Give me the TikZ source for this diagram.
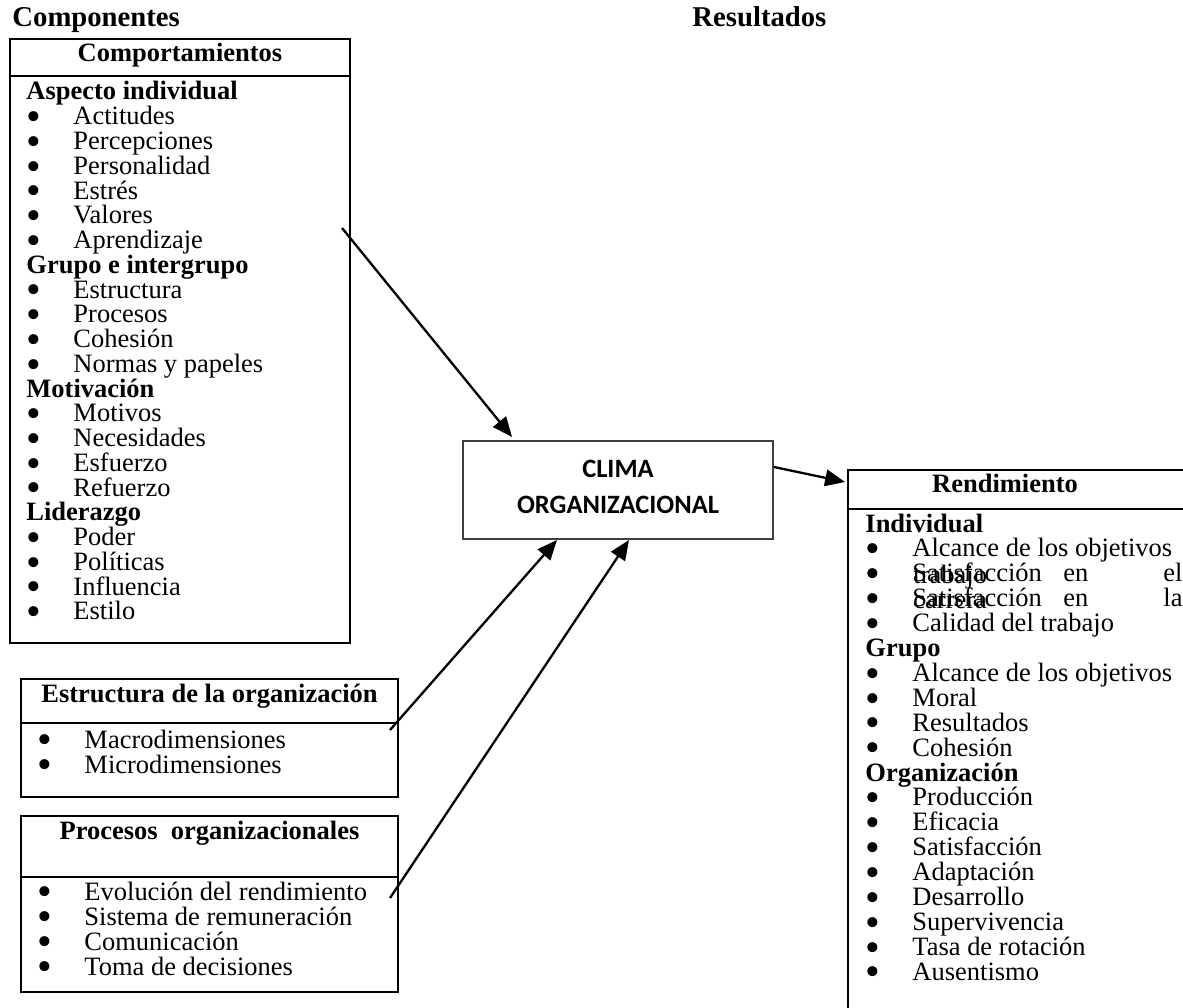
\documentclass[tikz,border=0pt]{standalone}
\usepackage{fontspec}
\setmainfont{Liberation Serif}
\newfontfamily\calib{Carlito}
\usetikzlibrary{arrows.meta,fit,calc}

\newcommand\bigdot{\makebox[21.3pt][l]{\smash{\raisebox{-2.6pt}{\fontsize{19}{19}\selectfont•}}}}

\begin{document}
\begin{tikzpicture}[x=0.453pt,y=-0.453pt,
  frame/.style={draw, line width=0.9pt, inner sep=0pt},
  rule/.style={line width=0.9pt},
  txt/.style={anchor=base west, inner sep=0pt, font=\fontsize{12}{14}\selectfont},
  lnh/.style={txt, font=\fontsize{12}{14}\selectfont\bfseries},
  lni/.style={txt, execute at begin node={\bigdot}},
  ttl/.style={anchor=base, inner sep=0pt, font=\fontsize{12}{14}\selectfont\bfseries},
  captxt/.style={anchor=base west, inner sep=0pt, font=\fontsize{13}{15}\selectfont\bfseries},
  climatxt/.style={anchor=base, inner sep=0pt, font=\calib\fontsize{12}{14}\selectfont\bfseries},
  link/.style={line width=1.05pt, -{Triangle[length=9pt,width=7.5pt]}}]

\useasboundingbox (0,0) rectangle (1183,1008);
\fill[white] (0,0) rectangle (1183,1008);
\clip (0,0) rectangle (1183,1008);

% column captions
\node[captxt] (tcomp) at (12,27) {Componentes};
\node[captxt] (tres) at (692,27) {Resultados};

% behaviour box
\node[frame, fit={(10,39) (350,643)}] (comp) {};
\draw[rule] (comp.west |- 0,76) -- (comp.east |- 0,76);
\node[ttl] (compt) at (180,62) {Comportamientos};
\foreach \kind/\txt [count=\i from 0] in {
  h/Aspecto individual, i/Actitudes, i/Percepciones, i/Personalidad,
  i/Estrés, i/Valores, i/Aprendizaje,
  h/Grupo e intergrupo, i/Estructura, i/Procesos, i/Cohesión, i/Normas y papeles,
  h/Motivación, i/Motivos, i/Necesidades, i/Esfuerzo, i/Refuerzo,
  h/Liderazgo, i/Poder, i/Políticas, i/Influencia, i/Estilo}{
  \pgfmathsetmacro\yy{100+\i*24.76}
  \node[ln\kind] (c\i) at (26,\yy) {\txt};
}

% organisation structure box
\node[frame, fit={(21,679) (398,797)}] (estr) {};
\draw[rule] (estr.west |- 0,723) -- (estr.east |- 0,723);
\node[ttl] (estrt) at (209.5,702) {Estructura de la organización};
\node[lni] (e1) at (37,748) {Macrodimensiones};
\node[lni] (e2) at (37,773) {Microdimensiones};

% organisational processes box
\node[frame, fit={(21,816) (398,992)}] (proc) {};
\draw[rule] (proc.west |- 0,877) -- (proc.east |- 0,877);
\node[ttl] (proct) at (209.5,839) {Procesos\ \ organizacionales};
\foreach \txt [count=\i from 0] in {Evolución del rendimiento, Sistema de remuneración,
  Comunicación, Toma de decisiones}{
  \pgfmathsetmacro\yy{900+\i*25}
  \node[lni] (p\i) at (37,\yy) {\txt};
}

% central box
\node[draw=black!75, line width=0.7pt, inner sep=0pt, fit={(463,441) (773,539)}] (clima) {};
\node[climatxt] (clima1) at (618,477) {CLIMA};
\node[climatxt] (clima2) at (618,513) {ORGANIZACIONAL};

% performance box (runs past the page edge)
\node[frame, fit={(848,470) (1260,1060)}] (rend) {};
\draw[rule] (rend.west |- 0,509) -- (rend.east |- 0,509);
\node[ttl] (rendt) at (1005,492) {Rendimiento};
\foreach \kind/\txt [count=\i from 0] in {
  h/Individual, i/Alcance de los objetivos, i/Satisfacción, i/Satisfacción,
  i/Calidad del trabajo,
  h/Grupo, i/Alcance de los objetivos, i/Moral, i/Resultados, i/Cohesión,
  h/Organización, i/Producción, i/Eficacia, i/Satisfacción, i/Adaptación,
  i/Desarrollo, i/Supervivencia, i/Tasa de rotación, i/Ausentismo}{
  \pgfmathsetmacro\yy{532+\i*24.9}
  \node[ln\kind] (r\i) at (865,\yy) {\txt};
}
% justified lines whose wrapped words overprint
\node[txt] (r2a) at (1063,581.8) {en};
\node[txt] (r2b) at (1163,581.8) {el};
\node[txt] (r2c) at (913,583) {trabajo};
\node[txt] (r3a) at (1063,606.7) {en};
\node[txt] (r3b) at (1163,606.7) {la};
\node[txt] (r3c) at (913,608) {carrera};

% connectors
\coordinate (s1) at (342,228);
\coordinate (t1) at (512,437);
\coordinate (s2) at (774,467);
\coordinate (t2) at (845,482);
\coordinate (s3) at (390,730);
\coordinate (t3) at (557,540);
\coordinate (s4) at (390,898);
\coordinate (t4) at (629,540);
\draw[link] (s1) -- (t1);
\draw[link] (s2) -- (t2);
\draw[link] (s3) -- (t3);
\draw[link] (s4) -- (t4);
\end{tikzpicture}
\end{document}
